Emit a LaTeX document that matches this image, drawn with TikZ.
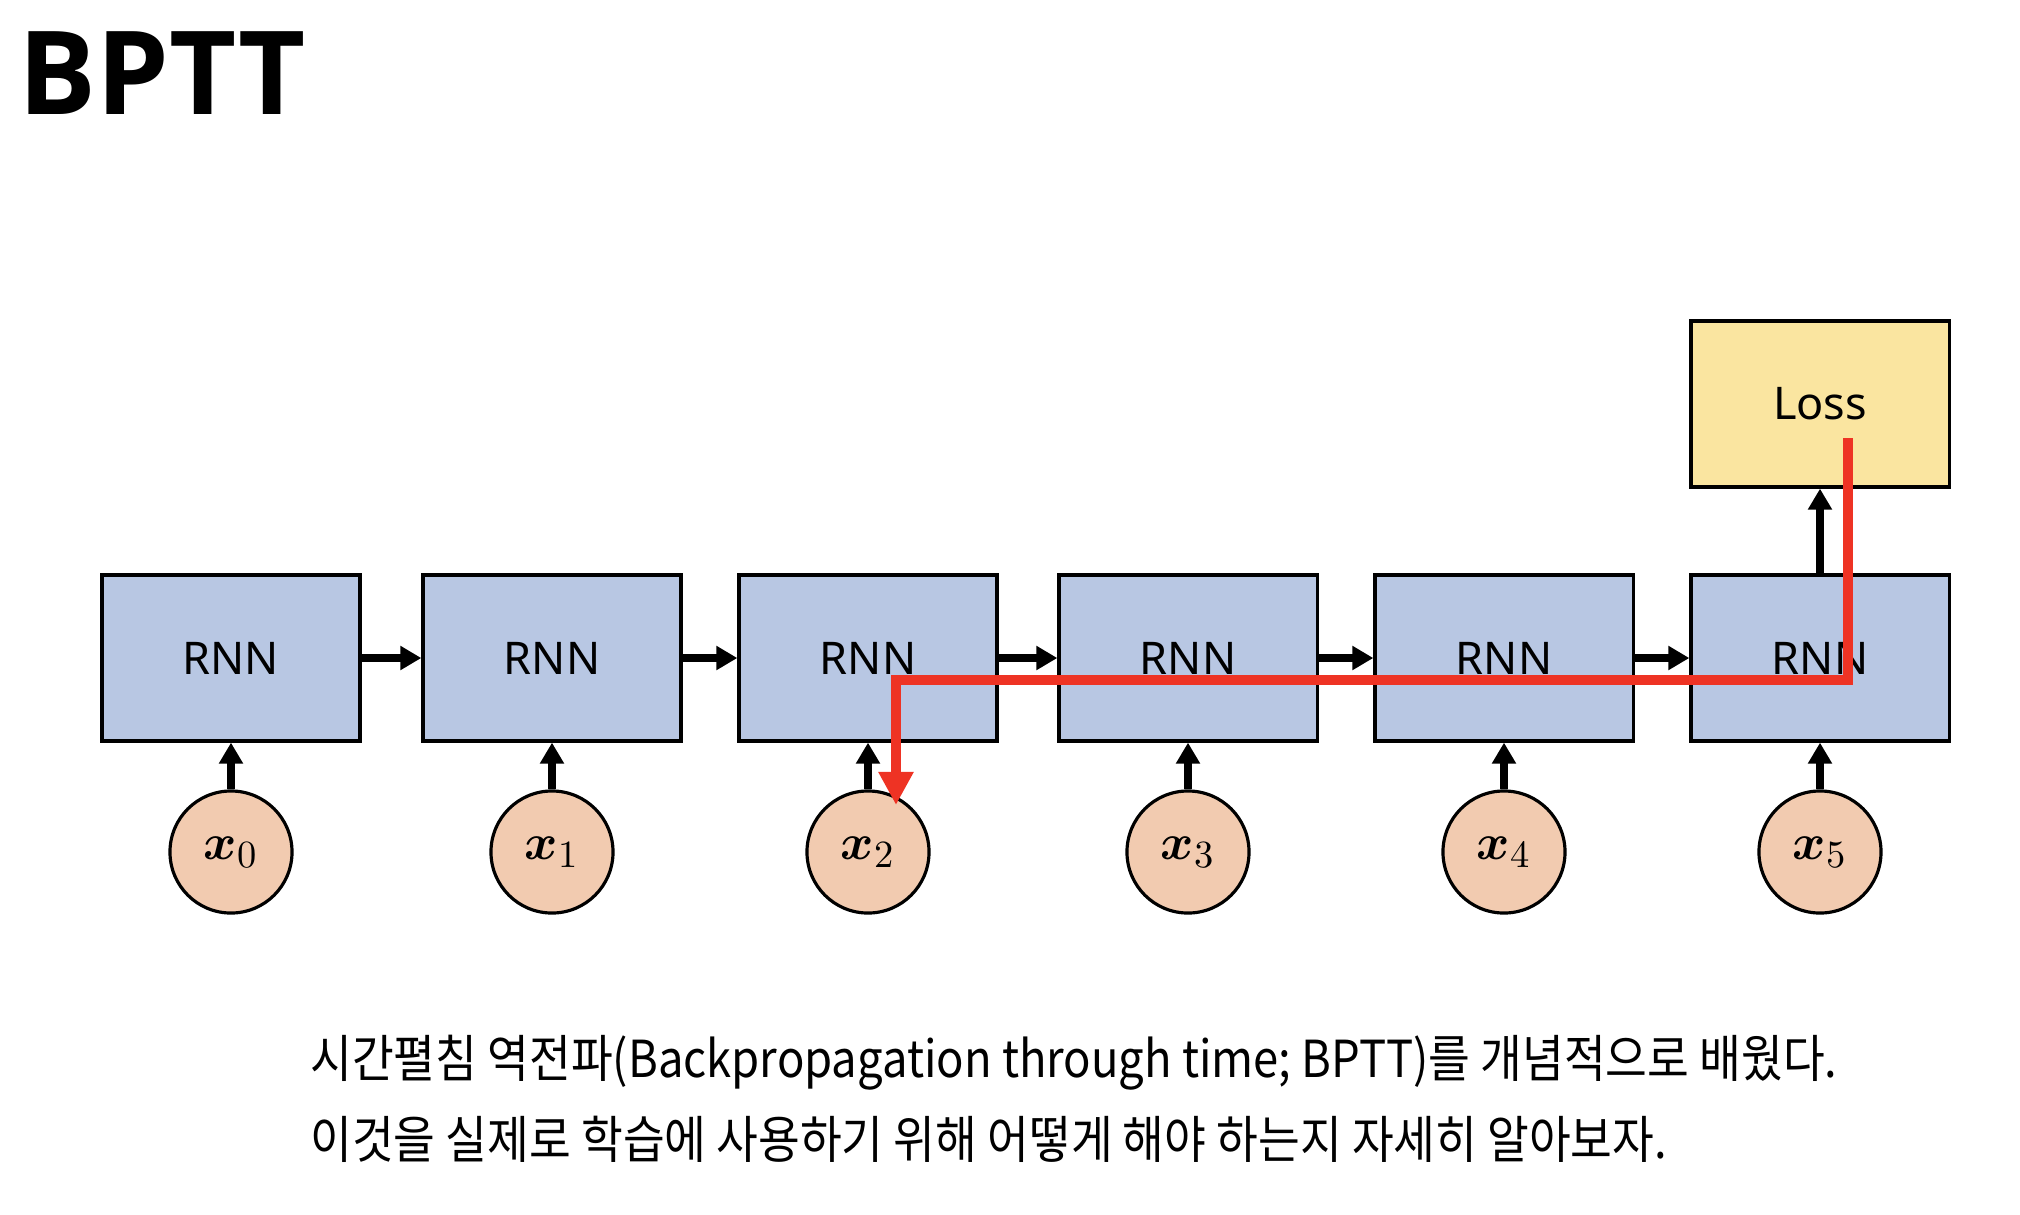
\documentclass[tikz,border=0pt]{standalone}
\usepackage{amsmath}
\usepackage{fontspec}
\setmainfont{Noto Sans CJK KR}[FakeStretch=0.89]
\newfontfamily\boxfont{Noto Sans}
\newfontfamily\titlefont{Open Sans}
\usetikzlibrary{arrows.meta,positioning}
\definecolor{rnnblue}{RGB}{184,199,227}
\definecolor{lossyellow}{RGB}{250,229,160}
\definecolor{inpeach}{RGB}{242,203,176}
\definecolor{bpred}{RGB}{238,51,36}

\begin{document}
\begin{tikzpicture}[x=0.01cm,y=-0.01cm,
    rnn/.style={draw,line width=0.9pt,fill=rnnblue,minimum width=2.58cm,minimum height=1.66cm,inner sep=0pt,font=\boxfont\fontsize{12.8}{15}\selectfont},
    loss/.style={rnn,fill=lossyellow},
    xin/.style={circle,draw,line width=0.9pt,fill=inpeach,minimum size=1.22cm,inner sep=0pt,font=\fontsize{15}{18}\selectfont},
    fwd/.style={-{Triangle[length=0.21cm,width=0.23cm]},line width=2.3pt},
    back/.style={-{Triangle[length=0.33cm,width=0.33cm]},line width=3.1pt,draw=bpred}]
\useasboundingbox (0,0) rectangle (2020,1214);

          \node [anchor=base west,font=\titlefont\bfseries\fontsize{33}{40}\selectfont] at (6,114) (title) {BPTT};
%
             \node [rnn] at (231,658) (rnn0) {RNN};
             \node [rnn] at (552,658) (rnn1) {RNN};
             \node [rnn] at (868,658) (rnn2) {RNN};
             \node [rnn] at (1188,658) (rnn3) {RNN};
             \node [rnn] at (1504,658) (rnn4) {RNN};
             \node [rnn] at (1820,658) (rnn5) {RNN};
             \node [loss] at (1820,404) (loss) {Loss};
%
             \node [xin] at (231,852) (x0) {$\boldsymbol{x}_0$};
             \node [xin] at (552,852) (x1) {$\boldsymbol{x}_1$};
             \node [xin] at (868,852) (x2) {$\boldsymbol{x}_2$};
             \node [xin] at (1188,852) (x3) {$\boldsymbol{x}_3$};
             \node [xin] at (1504,852) (x4) {$\boldsymbol{x}_4$};
             \node [xin] at (1820,852) (x5) {$\boldsymbol{x}_5$};
%
          \node [anchor=base west,font=\fontsize{14.5}{18}\selectfont] at (298,1077) (line1) {시간펼침 역전파(Backpropagation through time; BPTT)를 개념적으로 배웠다.};
          \node [anchor=base west,font=\fontsize{14.5}{18}\selectfont] at (298,1158) (line2) {이것을 실제로 학습에 사용하기 위해 어떻게 해야 하는지 자세히 알아보자.};
%
\draw[fwd] (rnn0) -- (rnn1);
\draw[fwd] (rnn1) -- (rnn2);
\draw[fwd] (rnn2) -- (rnn3);
\draw[fwd] (rnn3) -- (rnn4);
\draw[fwd] (rnn4) -- (rnn5);
\draw[fwd] (rnn5) -- (loss);
\foreach \i in {0,...,5}
   \draw[fwd] (x\i) -- (rnn\i);
%
\coordinate (bp start) at (1848,438);
\coordinate (bp end) at (896,805);
\draw[back] (bp start) |- ([yshift=-0.22cm]rnn3.center) -| (bp end);

\end{tikzpicture}
\end{document}
